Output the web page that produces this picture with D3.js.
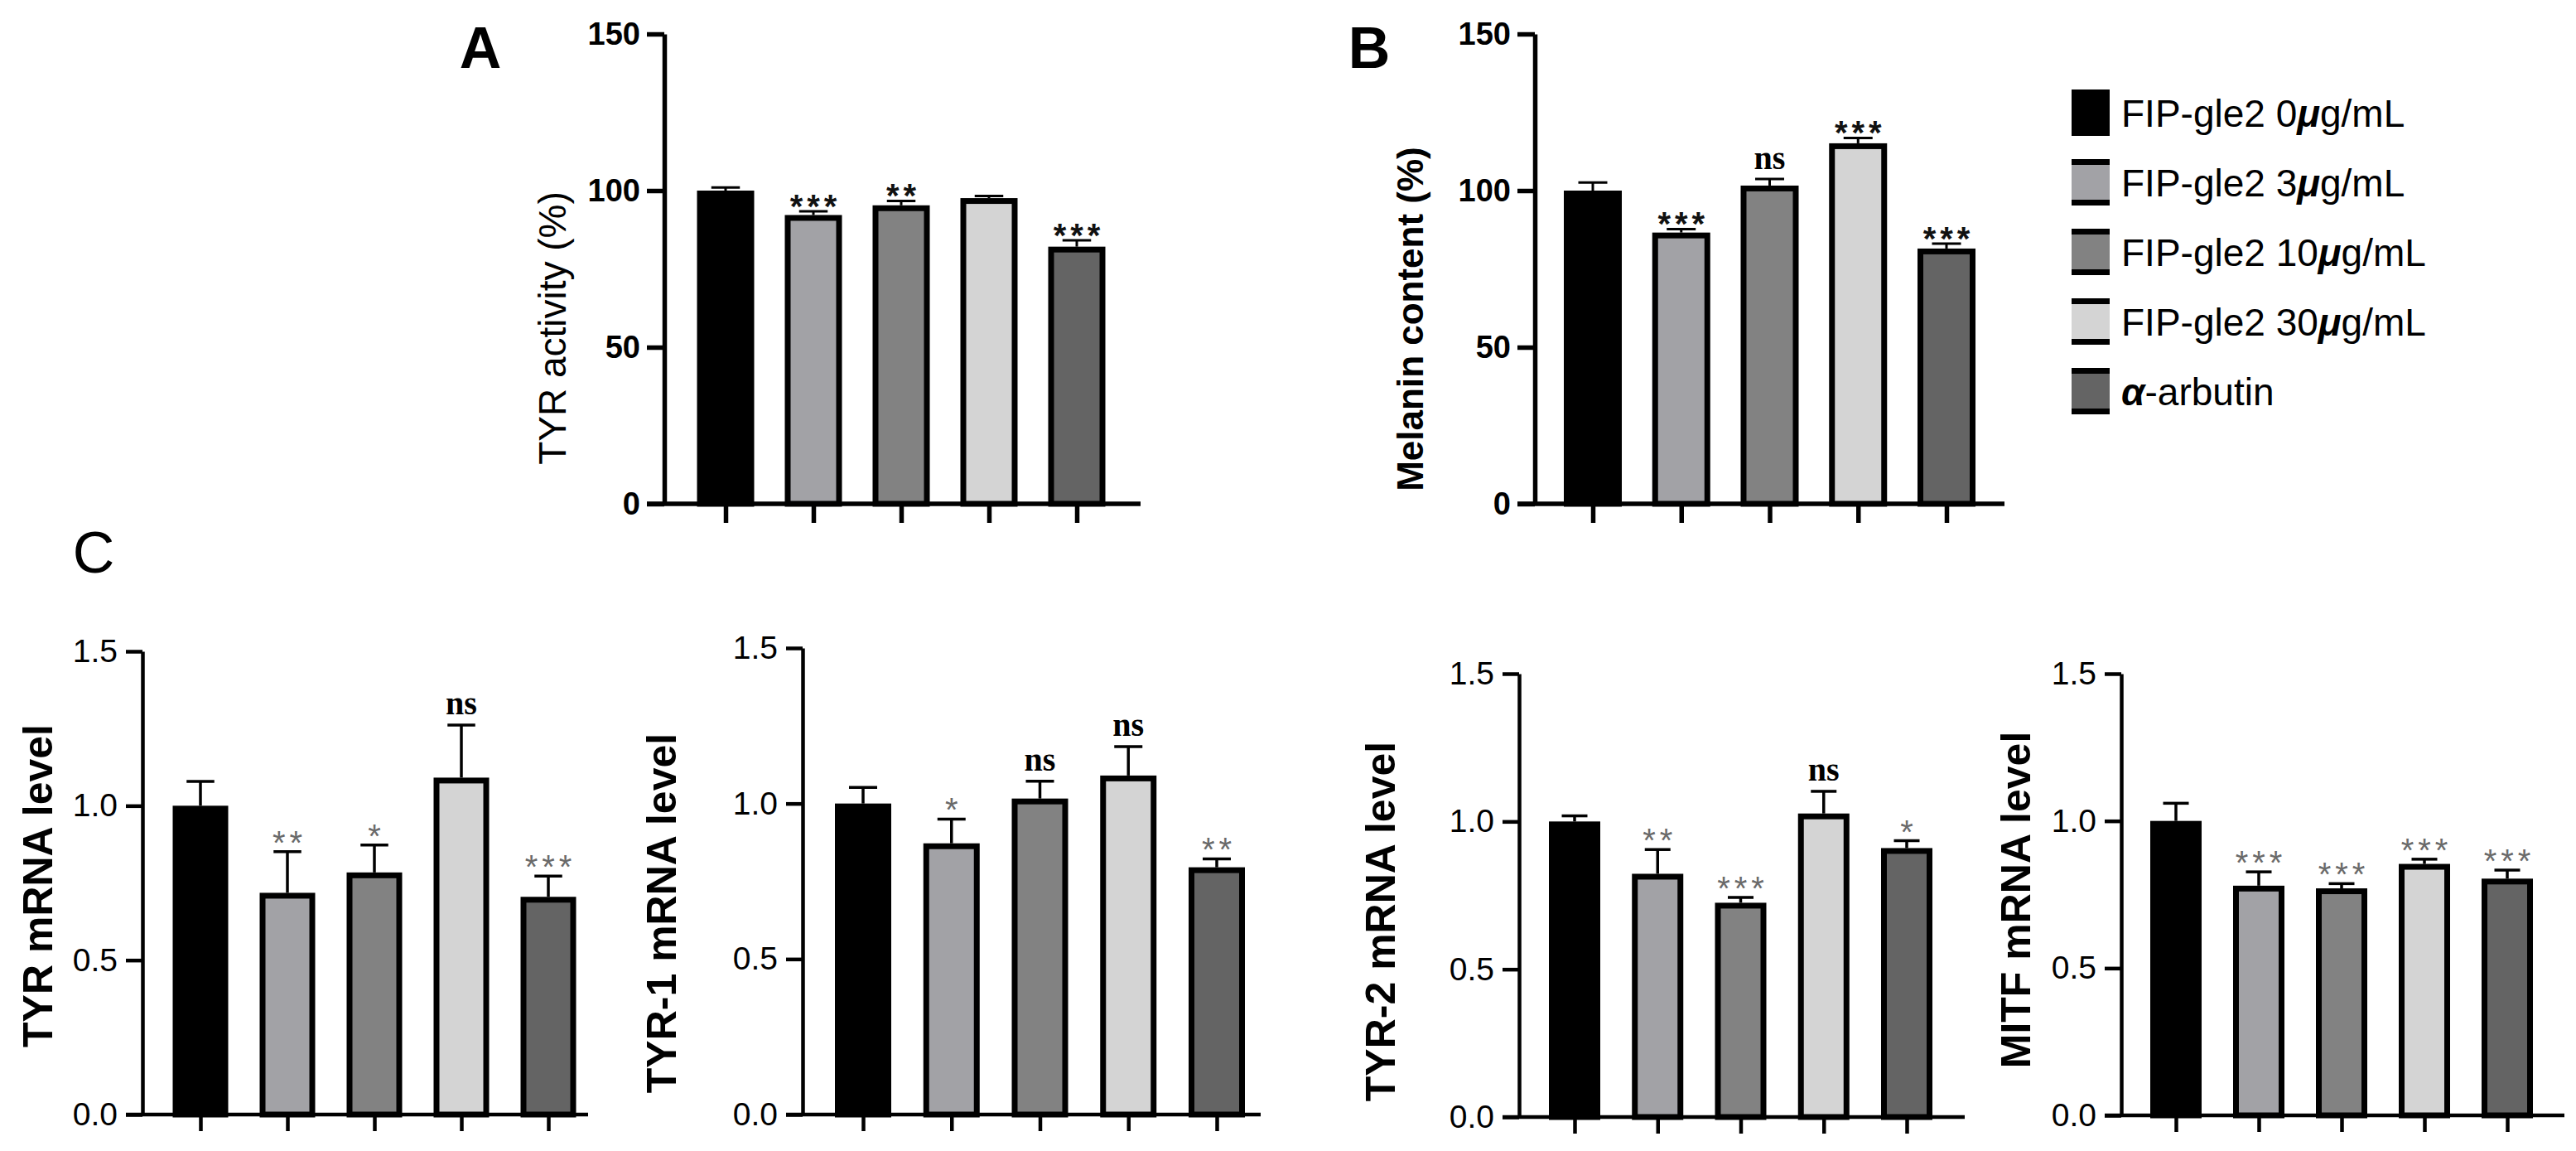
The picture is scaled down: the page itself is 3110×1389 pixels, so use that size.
<!DOCTYPE html>
<html>
<head>
<meta charset="utf-8">
<script src="https://cdn.jsdelivr.net/npm/d3@7"></script>
<style>
  html, body { margin: 0; padding: 0; background: #fff; }
  svg { display: block; }
</style>
</head>
<body>
<script>
// ---- data ----
const groups = ["FIP-gle2 0μg/mL", "FIP-gle2 3μg/mL", "FIP-gle2 10μg/mL", "FIP-gle2 30μg/mL", "α-arbutin"];
const pctTicks = [0, 50, 100, 150];
const mrnaTicks = [0, 0.5, 1.0, 1.5];

const tyrActivity    = [100, 92.2, 95.3, 97.6, 82.1];
const tyrActivityErr = [1.0, 1.2, 1.4, 0.7, 2.0];
const tyrActivitySig = ["", "***", "**", "", "***"];

const melanin    = [100, 86.6, 101.6, 115.1, 81.5];
const melaninErr = [2.6, 1.1, 2.1, 1.7, 1.6];
const melaninSig = ["", "***", "ns", "***", "***"];

const tyrMrna    = [1.0, 0.718, 0.784, 1.091, 0.705];
const tyrMrnaErr = [0.079, 0.133, 0.089, 0.170, 0.067];
const tyrMrnaSig = ["", "**", "*", "ns", "***"];

const tyr1Mrna    = [1.0, 0.872, 1.016, 1.090, 0.795];
const tyr1MrnaErr = [0.052, 0.078, 0.056, 0.093, 0.027];
const tyr1MrnaSig = ["", "*", "ns", "ns", "**"];

const tyr2Mrna    = [1.0, 0.823, 0.725, 1.027, 0.910];
const tyr2MrnaErr = [0.019, 0.082, 0.018, 0.075, 0.025];
const tyr2MrnaSig = ["", "**", "***", "ns", "*"];

const mitfMrna    = [1.0, 0.780, 0.771, 0.854, 0.804];
const mitfMrnaErr = [0.060, 0.047, 0.016, 0.016, 0.029];
const mitfMrnaSig = ["", "***", "***", "***", "***"];

// ---- styles ----
const fills = ["#000000", "#a2a2a6", "#828282", "#d4d4d4", "#646464"];
const SANS = "'Liberation Sans', Arial, sans-serif";
const SERIF = "'Liberation Serif', 'Times New Roman', serif";

const svg = d3.select("body").append("svg")
  .attr("width", 3110).attr("height", 1389);

// panel A and B share one look, the four C panels another
const bigStyle = { tickSize: 38, tickWeight: "bold", tickLen: 21, tickPad: 8, xTickLen: 23,
  axisW: 5.5, barW: 7, errW: 3, starColor: "#111", starWeight: "bold", starDy: 8, nsDy: -12 };
const smallStyle = { tickSize: 39, tickWeight: "normal", tickLen: 20, tickPad: 10, xTickLen: 20,
  axisW: 4.5, barW: 7, errW: 3.5, starColor: "#6a6a6a", starWeight: "normal", starDy: 3, nsDy: -13 };

const panels = [
  { values: tyrActivity, errs: tyrActivityErr, sig: tyrActivitySig, ticks: pctTicks, fmt: d3.format("d"),
    label: "TYR activity (%)", labelSize: 46, labelWeight: "normal", labelX: 671, labelY: 396, labelMid: 0.26,
    axisX: 802, y0: 608, y1: 41, c0: 876, c1: 1300, bw: 69, xEnd: 1377, s: bigStyle },
  { values: melanin, errs: melaninErr, sig: melaninSig, ticks: pctTicks, fmt: d3.format("d"),
    label: "Melanin content (%)", labelSize: 44, labelWeight: "bold", labelX: 1707, labelY: 385, labelMid: 0.26,
    axisX: 1853, y0: 608, y1: 41, c0: 1923, c1: 2350, bw: 70, xEnd: 2420, s: bigStyle },
  { values: tyrMrna, errs: tyrMrnaErr, sig: tyrMrnaSig, ticks: mrnaTicks, fmt: d3.format(".1f"),
    label: "TYR mRNA level", labelSize: 50, labelWeight: "bold", labelX: 45, labelY: 1069, labelMid: 0.36,
    axisX: 172, y0: 1345, y1: 786, c0: 242, c1: 662, bw: 67, xEnd: 710, s: smallStyle },
  { values: tyr1Mrna, errs: tyr1MrnaErr, sig: tyr1MrnaSig, ticks: mrnaTicks, fmt: d3.format(".1f"),
    label: "TYR-1 mRNA level", labelSize: 50, labelWeight: "bold", labelX: 798, labelY: 1102, labelMid: 0.36,
    axisX: 969, y0: 1345, y1: 782, c0: 1042, c1: 1469, bw: 68, xEnd: 1522, s: smallStyle },
  { values: tyr2Mrna, errs: tyr2MrnaErr, sig: tyr2MrnaSig, ticks: mrnaTicks, fmt: d3.format(".1f"),
    label: "TYR-2 mRNA level", labelSize: 50, labelWeight: "bold", labelX: 1666, labelY: 1112, labelMid: 0.36,
    axisX: 1834, y0: 1348, y1: 813, c0: 1901, c1: 2302, bw: 62, xEnd: 2372, s: smallStyle },
  { values: mitfMrna, errs: mitfMrnaErr, sig: mitfMrnaSig, ticks: mrnaTicks, fmt: d3.format(".1f"),
    label: "MITF mRNA level", labelSize: 50, labelWeight: "bold", labelX: 2433, labelY: 1086, labelMid: 0.36,
    axisX: 2561, y0: 1346, y1: 813, c0: 2627, c1: 3027, bw: 62, xEnd: 3096, s: smallStyle }
];

function drawPanel(p) {
  const s = p.s;
  const g = svg.append("g");
  const y = d3.scaleLinear().domain([0, d3.max(p.ticks)]).range([p.y0, p.y1]);
  const x = d3.scalePoint().domain(groups).range([p.c0, p.c1]);
  const rows = groups.map((k, i) => ({ k, i, v: p.values[i], e: p.errs[i], sig: p.sig[i] }));

  // error bars (upper only)
  const capW = p.bw * 0.5;
  const eb = g.append("g").attr("stroke", "#000").attr("stroke-width", s.errW);
  eb.selectAll("line.stem").data(rows).join("line")
    .attr("x1", d => x(d.k)).attr("x2", d => x(d.k))
    .attr("y1", d => y(d.v)).attr("y2", d => y(d.v + d.e));
  eb.selectAll("line.cap").data(rows).join("line")
    .attr("x1", d => x(d.k) - capW / 2).attr("x2", d => x(d.k) + capW / 2)
    .attr("y1", d => y(d.v + d.e)).attr("y2", d => y(d.v + d.e));

  // bars, outer edge of the outline sits on the value
  g.selectAll("rect.bar").data(rows).join("rect")
    .attr("x", d => x(d.k) - p.bw / 2 + s.barW / 2)
    .attr("y", d => y(d.v) + s.barW / 2)
    .attr("width", p.bw - s.barW)
    .attr("height", d => y(0) - y(d.v) - s.barW / 2)
    .attr("fill", d => fills[d.i])
    .attr("stroke", "#000")
    .attr("stroke-width", s.barW);

  // y axis
  g.append("g")
    .attr("transform", `translate(${p.axisX},0)`)
    .call(d3.axisLeft(y).tickValues(p.ticks).tickFormat(p.fmt)
      .tickSize(s.tickLen).tickSizeOuter(0).tickPadding(s.tickPad))
    .call(a => a.select(".domain").attr("stroke-width", s.axisW))
    .call(a => a.selectAll(".tick line").attr("stroke-width", s.axisW))
    .call(a => a.selectAll(".tick text")
      .attr("font-family", SANS).attr("font-size", s.tickSize)
      .attr("font-weight", s.tickWeight).attr("fill", "#000"));

  // x axis: baseline line + category ticks, no labels
  g.append("line")
    .attr("x1", p.axisX - s.tickLen).attr("x2", p.xEnd)
    .attr("y1", y(0)).attr("y2", y(0))
    .attr("stroke", "#000").attr("stroke-width", s.axisW);
  g.append("g")
    .attr("transform", `translate(0,${y(0)})`)
    .call(d3.axisBottom(x).tickSize(s.xTickLen).tickFormat(""))
    .call(a => a.select(".domain").remove())
    .call(a => a.selectAll(".tick line").attr("stroke-width", s.axisW));

  // significance marks
  g.selectAll("text.sig").data(rows.filter(d => d.sig)).join("text")
    .attr("x", d => x(d.k))
    .attr("y", d => y(d.v + d.e) + (d.sig === "ns" ? s.nsDy : s.starDy))
    .attr("text-anchor", "middle")
    .attr("font-family", d => d.sig === "ns" ? SERIF : SANS)
    .attr("font-weight", d => d.sig === "ns" ? "bold" : s.starWeight)
    .attr("font-size", 40)
    .attr("letter-spacing", d => d.sig === "ns" ? 0 : 5)
    .attr("dx", d => d.sig === "ns" ? 0 : 2.5)
    .attr("fill", d => d.sig === "ns" ? "#000" : s.starColor)
    .text(d => d.sig);

  // y label
  g.append("text")
    .attr("transform", `translate(${p.labelX + p.labelMid * p.labelSize},${p.labelY}) rotate(-90)`)
    .attr("text-anchor", "middle")
    .attr("font-family", SANS)
    .attr("font-size", p.labelSize)
    .attr("font-weight", p.labelWeight)
    .attr("fill", "#000")
    .text(p.label);
}

panels.forEach(drawPanel);

// panel letters
const letters = [
  { t: "A", x: 580, y: 82, w: "bold" },
  { t: "B", x: 1653, y: 82, w: "bold" },
  { t: "C", x: 113, y: 691, w: "normal" }
];
svg.selectAll("text.letter").data(letters).join("text")
  .attr("x", d => d.x).attr("y", d => d.y)
  .attr("text-anchor", "middle")
  .attr("font-family", SANS).attr("font-size", 70)
  .attr("font-weight", d => d.w)
  .attr("fill", "#000")
  .text(d => d.t);

// legend
const legendX = 2501, legendTop = 108, legendStep = 84, swW = 46, swH = 56, band = 7;
const lg = svg.append("g");
const items = lg.selectAll("g.item").data(groups).join("g")
  .attr("transform", (d, i) => `translate(${legendX},${legendTop + i * legendStep})`);
items.append("rect")
  .attr("width", swW).attr("height", swH)
  .attr("fill", (d, i) => fills[i]);
items.append("rect").attr("width", swW).attr("height", band).attr("fill", "#000");
items.append("rect").attr("y", swH - band).attr("width", swW).attr("height", band).attr("fill", "#000");
items.append("text")
  .attr("x", 60).attr("y", swH / 2)
  .attr("dy", "0.36em")
  .attr("font-family", SANS).attr("font-size", 46).attr("fill", "#000")
  .each(function (d) {
    const t = d3.select(this);
    d.split(/([μα])/).filter(s => s).forEach(part => {
      const ts = t.append("tspan").text(part);
      if (part === "μ" || part === "α") ts.attr("font-weight", "bold").attr("font-style", "italic");
    });
  });
</script>
</body>
</html>
